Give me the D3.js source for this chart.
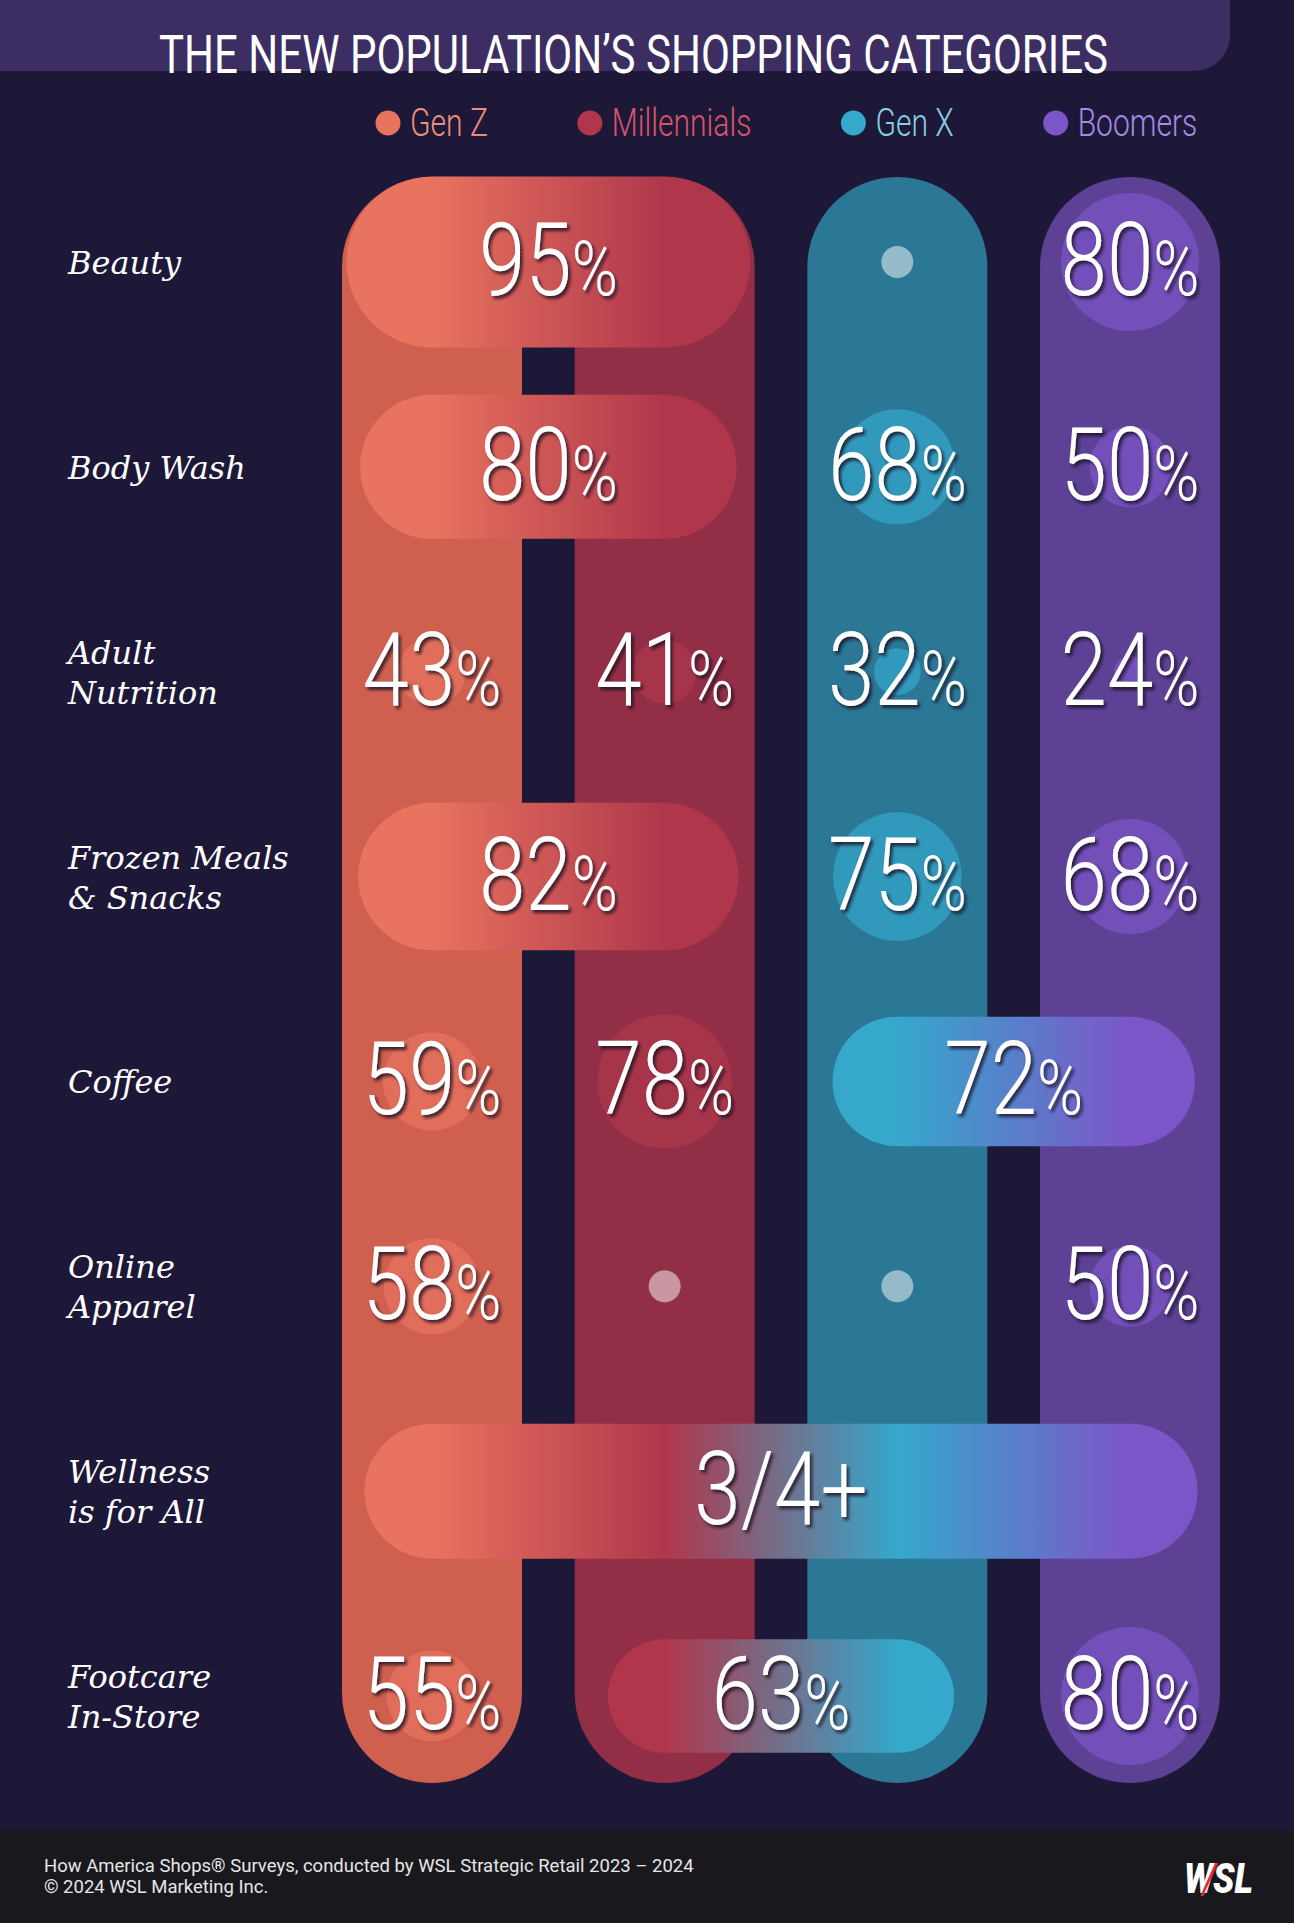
<!DOCTYPE html>
<html>
<head>
  <title>The New Population's Shopping Categories</title>
  <script src="https://d3js.org/d3.v7.min.js"></script>
  <style>
    body { margin: 0; background: #1e1838; }
    svg { display: block; }
  </style>
</head>
<body>
  <div id="chart"></div>

  <script>
    // shopping categories, top to bottom
    var categories = ["Beauty", "Body Wash", "Adult Nutrition", "Frozen Meals & Snacks",
      "Coffee", "Online Apparel", "Wellness is for All", "Footcare In-Store"];
    var labelLines = [["Beauty"], ["Body Wash"], ["Adult", "Nutrition"], ["Frozen Meals", "& Snacks"],
      ["Coffee"], ["Online", "Apparel"], ["Wellness", "is for All"], ["Footcare", "In-Store"]];

    var generations = ["Gen Z", "Millennials", "Gen X", "Boomers"];

    // percent shopping each category (null = not a top category for that generation)
    var genZ        = [95, 80, 43, 82, 59, 58,   75, 55];
    var millennials = [95, 80, 41, 82, 78, null, 75, 63];
    var genX        = [null, 68, 32, 75, 72, null, 75, 63];
    var boomers     = [80, 50, 24, 68, 72, 50,   75, 80];

    // wellness is reported as "three quarters or more" for everyone
    var textOverride = { "Wellness is for All": "3/4+" };

    var title = "THE NEW POPULATION\u2019S SHOPPING CATEGORIES";
    var footerLines = ["How America Shops\u00AE Surveys, conducted by WSL Strategic Retail 2023 \u2013 2024",
      "\u00A9 2024 WSL Marketing Inc."];

    var width = 1294;
    var height = 1923;
    var colTop = 177;
    var colBottom = 1783;
    var squeeze = 0.82;

    var baseColor = d3.scaleOrdinal().domain(generations).range(["#cf6050", "#922f47", "#2b7796", "#5c4195"]);
    var brightColor = d3.scaleOrdinal().domain(generations).range(["#e8735f", "#b0374b", "#35a8cc", "#7c56c9"]);
    var legendText = d3.scaleOrdinal().domain(generations).range(["#f08c7e", "#d9546b", "#82d2e2", "#a48be4"]);

    var x = d3.scaleBand().domain(generations).range([342, 1220]).paddingInner(0.2264).paddingOuter(0);
    var y = d3.scalePoint().domain(categories).range([262, 1696]);
    var pillH = d3.scaleLinear().domain([0, 100]).range([0, 180]);
    var dotR = d3.scaleLinear().domain([0, 100]).range([-7, 88]);

    function colCenter(g) { return x(g) + x.bandwidth() / 2; }

    var svg = d3.select("#chart")
      .append("svg")
      .attr("width", width)
      .attr("height", height);

    var defs = svg.append("defs");
    var shadow = defs.append("filter").attr("id", "shadow")
      .attr("x", "-20%").attr("y", "-20%").attr("width", "140%").attr("height", "140%");
    shadow.append("feDropShadow")
      .attr("dx", 3).attr("dy", 3).attr("stdDeviation", 1.8)
      .attr("flood-color", "#160c24").attr("flood-opacity", 0.8);

    svg.append("rect").attr("width", width).attr("height", height).attr("fill", "#1e1838");

    // title band
    svg.append("rect")
      .attr("x", -60).attr("y", -40)
      .attr("width", 1290).attr("height", 111)
      .attr("rx", 36)
      .attr("fill", "#3c2e62");

    svg.append("text")
      .attr("x", 159).attr("y", 73)
      .attr("textLength", 949)
      .attr("lengthAdjust", "spacingAndGlyphs")
      .style("font-family", "Roboto")
      .style("font-size", "53px")
      .style("fill", "#ffffff")
      .text(title);

    // legend
    var lx = 388;
    generations.forEach(function(g) {
      svg.append("circle")
        .attr("cx", lx).attr("cy", 123).attr("r", 12.5)
        .attr("fill", brightColor(g));
      var t = svg.append("text")
        .attr("transform", "translate(" + (lx + 22) + ",136) scale(0.77,1)")
        .style("font-family", "Roboto")
        .style("font-weight", 300)
        .style("font-size", "39px")
        .style("fill", legendText(g))
        .text(g);
      lx += 22 + t.node().getComputedTextLength() * 0.77 + 102;
    });

    // generation columns
    svg.selectAll(".col")
      .data(generations)
      .enter()
      .append("rect")
      .attr("class", "col")
      .attr("x", function(d) { return x(d); })
      .attr("y", colTop)
      .attr("width", x.bandwidth())
      .attr("height", colBottom - colTop)
      .attr("rx", x.bandwidth() / 2)
      .attr("fill", function(d) { return baseColor(d); });

    // group equal neighbouring values into shared spans
    var series = [genZ, millennials, genX, boomers];
    var cells = [];
    categories.forEach(function(cat, i) {
      var j = 0;
      while (j < generations.length) {
        var v = series[j][i];
        var k = j;
        if (v !== null) {
          while (k + 1 < generations.length && series[k + 1][i] === v) k++;
        }
        cells.push({ category: cat, start: j, end: k, value: v });
        j = k + 1;
      }
    });

    var layer = svg.append("g");
    var texts = [];

    cells.forEach(function(c, n) {
      var cy = y(c.category);
      var g0 = generations[c.start];
      var g1 = generations[c.end];
      var cx0 = colCenter(g0);
      var cx1 = colCenter(g1);

      if (c.value === null) {
        layer.append("circle")
          .attr("cx", cx0).attr("cy", cy).attr("r", 16)
          .attr("fill", "#ffffff").attr("fill-opacity", 0.5);
        return;
      }

      if (c.start === c.end) {
        layer.append("circle")
          .attr("cx", cx0).attr("cy", cy)
          .attr("r", dotR(c.value))
          .attr("fill", brightColor(g0))
          .attr("fill-opacity", 0.7);
      } else {
        var h = pillH(c.value);
        var left = cx0 - h / 2;
        var right = cx1 + h / 2;
        var grad = defs.append("linearGradient")
          .attr("id", "grad" + n)
          .attr("gradientUnits", "userSpaceOnUse")
          .attr("x1", left).attr("x2", right)
          .attr("y1", 0).attr("y2", 0);
        generations.slice(c.start, c.end + 1).forEach(function(g) {
          grad.append("stop")
            .attr("offset", (colCenter(g) - left) / (right - left))
            .attr("stop-color", brightColor(g));
        });
        layer.append("rect")
          .attr("x", left).attr("y", cy - h / 2)
          .attr("width", right - left).attr("height", h)
          .attr("rx", h / 2)
          .attr("fill", "url(#grad" + n + ")");
      }

      texts.push({ cx: (cx0 + cx1) / 2, cy: cy, cell: c });
    });

    // value labels
    var vt = svg.selectAll(".value")
      .data(texts)
      .enter()
      .append("text")
      .attr("class", "value")
      .attr("transform", function(d) {
        return "translate(" + d.cx + "," + (d.cy + 33) + ") scale(" + squeeze + ",1)";
      })
      .attr("text-anchor", "middle")
      .attr("filter", "url(#shadow)")
      .style("font-family", "Roboto")
      .style("font-weight", 300)
      .style("fill", "#ffffff");

    vt.each(function(d) {
      var t = d3.select(this);
      var special = textOverride[d.cell.category];
      if (special) {
        t.append("tspan").style("font-size", "102px").text(special);
      } else {
        t.append("tspan").style("font-size", "102px").text(d.cell.value);
        t.append("tspan").style("font-size", "76px").text("%");
      }
    });

    // category labels
    var labels = svg.selectAll(".label")
      .data(categories)
      .enter()
      .append("text")
      .attr("class", "label")
      .style("font-family", "DejaVu Serif")
      .style("font-style", "italic")
      .style("font-size", "32px")
      .style("fill", "#ffffff");

    labels.each(function(d, i) {
      var lines = labelLines[i];
      var first = y(d) + 12 - (lines.length - 1) * 20;
      d3.select(this).selectAll("tspan")
        .data(lines)
        .enter()
        .append("tspan")
        .attr("x", 68)
        .attr("y", function(l, k) { return first + k * 40; })
        .text(function(l) { return l; });
    });

    // footer
    svg.append("rect")
      .attr("x", 0).attr("y", 1831)
      .attr("width", width).attr("height", height - 1831)
      .attr("fill", "#19181c");

    svg.selectAll(".foot")
      .data(footerLines)
      .enter()
      .append("text")
      .attr("class", "foot")
      .attr("x", 44)
      .attr("y", function(d, i) { return 1872 + i * 21; })
      .style("font-family", "Roboto")
      .style("font-size", "18.5px")
      .style("fill", "#e6e6ea")
      .text(function(d) { return d; });

    var logo = svg.append("text")
      .attr("transform", "translate(1184,1893) scale(0.82,1)")
      .style("font-family", "Roboto")
      .style("font-weight", 900)
      .style("font-style", "italic")
      .style("font-size", "43px")
      .style("fill", "#ffffff");
    logo.append("tspan").text("W");
    logo.append("tspan").attr("dx", -14).style("fill", "#e0263a").style("font-weight", 400).text("/");
    logo.append("tspan").attr("dx", -4).text("SL");
  </script>
</body>
</html>
